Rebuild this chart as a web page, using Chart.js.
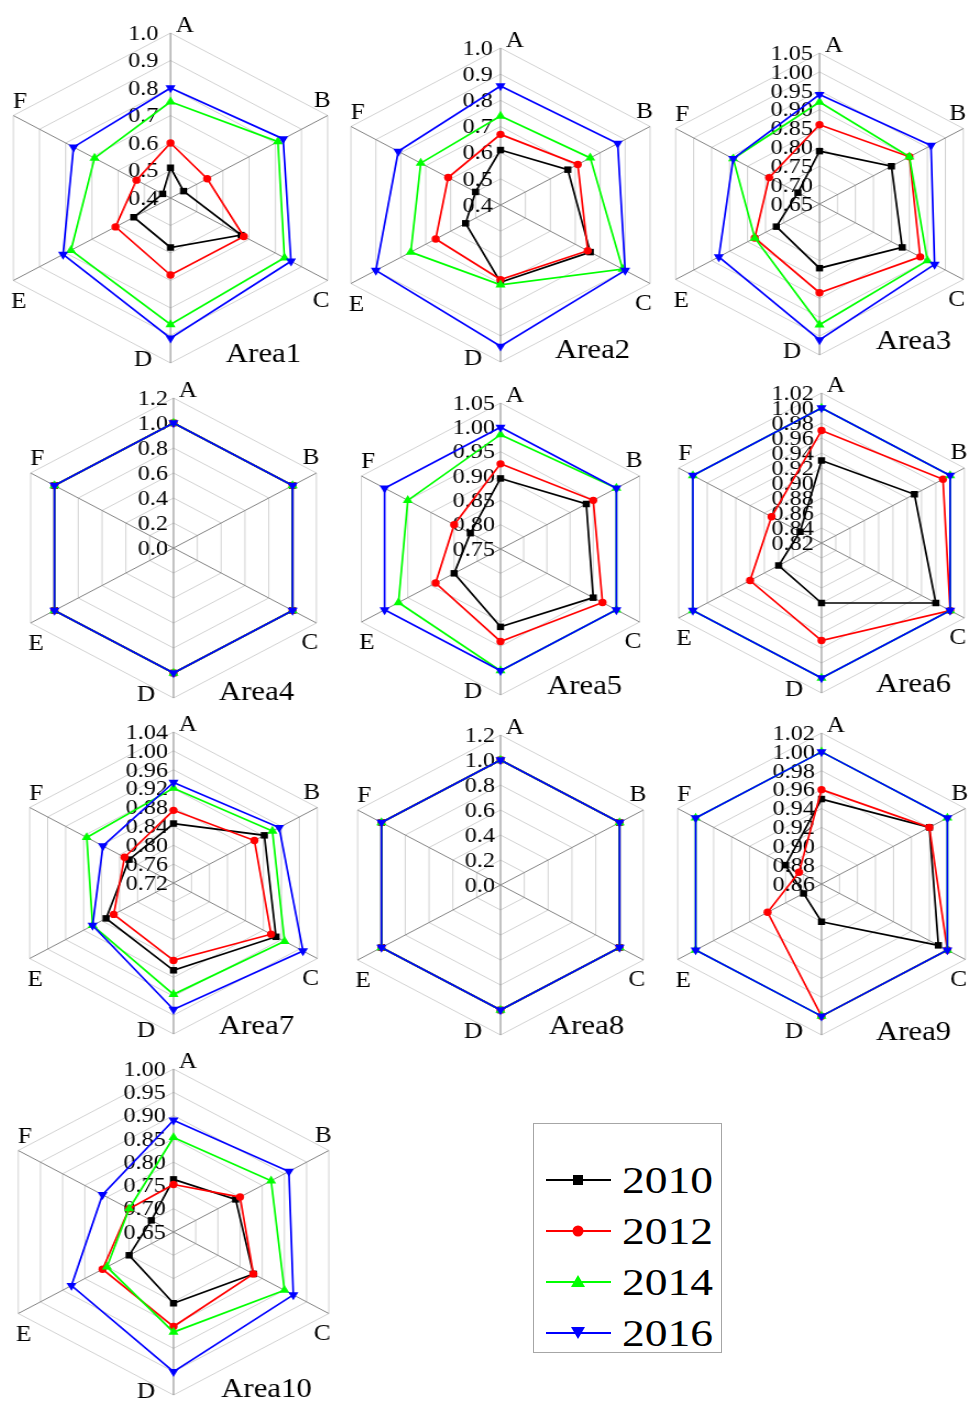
<!DOCTYPE html>
<html>
<head>
<meta charset="utf-8">
<title>Area radar charts 2010-2016</title>
<script src="https://cdn.jsdelivr.net/npm/chart.js@4.4.1/dist/chart.umd.min.js"></script>
<style>
  html, body { margin: 0; padding: 0; background: #ffffff; }
  body { position: relative; width: 968px; height: 1406px; overflow: hidden; }
  canvas { position: absolute; }
  #legend { position: absolute; left: 533px; top: 1123px; }
</style>
</head>
<body>
<svg id="legend" width="189" height="230" xmlns="http://www.w3.org/2000/svg">
  <rect x="0.5" y="0.5" width="188" height="229" fill="#ffffff" stroke="#a6a6a6" stroke-width="1"/>
  <g font-family="'Liberation Serif', 'Times New Roman', serif" font-size="38" fill="#000000">
    <line x1="13" y1="57" x2="78" y2="57" stroke="#000000" stroke-width="2"/>
    <rect x="40" y="52" width="10" height="10" fill="#000000"/>
    <text x="89" y="70" textLength="91" lengthAdjust="spacingAndGlyphs">2010</text>

    <line x1="13" y1="108" x2="78" y2="108" stroke="#ff0000" stroke-width="2"/>
    <circle cx="45" cy="108" r="5.5" fill="#ff0000"/>
    <text x="89" y="121" textLength="91" lengthAdjust="spacingAndGlyphs">2012</text>

    <line x1="13" y1="159" x2="78" y2="159" stroke="#00ff00" stroke-width="2"/>
    <polygon points="45,152 52,164 38,164" fill="#00ff00"/>
    <text x="89" y="172" textLength="91" lengthAdjust="spacingAndGlyphs">2014</text>

    <line x1="13" y1="210" x2="78" y2="210" stroke="#0000ff" stroke-width="2"/>
    <polygon points="38,204 52,204 45,216" fill="#0000ff"/>
    <text x="89" y="223" textLength="91" lengthAdjust="spacingAndGlyphs">2016</text>
  </g>
</svg>
<script>
// ---- data ----
const categories = ['A', 'B', 'C', 'D', 'E', 'F'];
const years = ['2010', '2012', '2014', '2016'];
const areaNames = ['Area1', 'Area2', 'Area3', 'Area4', 'Area5', 'Area6', 'Area7', 'Area8', 'Area9', 'Area10'];

// radial axis range of each area
const scaleMin  = [0.40, 0.40, 0.65, 0.0, 0.75, 0.82, 0.72, 0.0, 0.86, 0.65];
const scaleMax  = [1.00, 1.00, 1.05, 1.2, 1.05, 1.02, 1.04, 1.2, 1.02, 1.00];
const scaleStep = [0.10, 0.10, 0.05, 0.2, 0.05, 0.02, 0.04, 0.2, 0.02, 0.05];
const tickDecimals = [1, 1, 2, 1, 2, 2, 2, 1, 2, 2];

// values per year (rows: 2010, 2012, 2014, 2016; columns: A..F)
const area1 = [
  [0.51, 0.45, 0.67, 0.58, 0.54, 0.43],
  [0.60, 0.54, 0.68, 0.68, 0.61, 0.53],
  [0.75, 0.81, 0.835, 0.86, 0.78, 0.69],
  [0.80, 0.83, 0.86, 0.91, 0.81, 0.77]
];
const area2 = [
  [0.61, 0.67, 0.76, 0.695, 0.54, 0.50],
  [0.67, 0.71, 0.75, 0.685, 0.66, 0.61],
  [0.74, 0.76, 0.89, 0.705, 0.76, 0.72],
  [0.855, 0.87, 0.90, 0.94, 0.90, 0.81]
];
const area3 = [
  [0.79, 0.85, 0.88, 0.82, 0.77, 0.71],
  [0.86, 0.90, 0.93, 0.885, 0.83, 0.79],
  [0.92, 0.90, 0.95, 0.97, 0.83, 0.89],
  [0.94, 0.96, 0.97, 1.01, 0.93, 0.89]
];
const area4 = [
  [1.0, 1.0, 1.0, 1.0, 1.0, 1.0],
  [1.0, 1.0, 1.0, 1.0, 1.0, 1.0],
  [1.0, 1.0, 1.0, 1.0, 1.0, 1.0],
  [1.0, 1.0, 1.0, 1.0, 1.0, 1.0]
];
const area5 = [
  [0.895, 0.935, 0.95, 0.91, 0.85, 0.815],
  [0.925, 0.95, 0.97, 0.94, 0.89, 0.85],
  [0.985, 1.00, 1.00, 1.00, 0.97, 0.95],
  [1.00, 1.00, 1.00, 1.00, 1.00, 1.00]
];
const area6 = [
  [0.93, 0.95, 0.98, 0.90, 0.88, 0.85],
  [0.97, 0.99, 1.00, 0.95, 0.92, 0.89],
  [1.00, 1.00, 1.00, 1.00, 1.00, 1.00],
  [1.00, 1.00, 1.00, 1.00, 1.00, 1.00]
];
const area7 = [
  [0.846, 0.922, 0.948, 0.905, 0.87, 0.819],
  [0.874, 0.90, 0.937, 0.884, 0.853, 0.829],
  [0.921, 0.94, 0.967, 0.956, 0.90, 0.913],
  [0.933, 0.955, 1.008, 0.988, 0.90, 0.877]
];
const area8 = [
  [1.0, 1.0, 1.0, 1.0, 1.0, 1.0],
  [1.0, 1.0, 1.0, 1.0, 1.0, 1.0],
  [1.0, 1.0, 1.0, 1.0, 1.0, 1.0],
  [1.0, 1.0, 1.0, 1.0, 1.0, 1.0]
];
const area9 = [
  [0.95, 0.98, 0.99, 0.90, 0.88, 0.90],
  [0.96, 0.98, 1.00, 1.00, 0.92, 0.885],
  [1.00, 1.00, 1.00, 1.00, 1.00, 1.00],
  [1.00, 1.00, 1.00, 1.00, 1.00, 1.00]
];
const area10 = [
  [0.763, 0.79, 0.83, 0.803, 0.75, 0.70],
  [0.752, 0.80, 0.83, 0.853, 0.81, 0.75],
  [0.853, 0.87, 0.90, 0.865, 0.80, 0.75],
  [0.89, 0.91, 0.92, 0.95, 0.88, 0.81]
];
const areaValues = [area1, area2, area3, area4, area5, area6, area7, area8, area9, area10];

// ---- layout & style ----
const STRETCH = 1.1;          // panels are drawn slightly wider than tall
const CW = 370, CH = 400;     // canvas size in drawing units
const panels = [
  { cx: 170.7, cy: 198, r: 165, tdx: 93, tdy: 157, tickGap: 11 },
  { cx: 500.0, cy: 205, r: 157, tdx: 92, tdy: 146, tickGap: 7 },
  { cx: 819.3, cy: 204, r: 151, tdx: 94, tdy: 138, tickGap: 6 },
  { cx: 173.3, cy: 548, r: 150, tdx: 83, tdy: 145, tickGap: 5 },
  { cx: 500.7, cy: 549, r: 146, tdx: 84, tdy: 138, tickGap: 5 },
  { cx: 821.7, cy: 543, r: 150, tdx: 92, tdy: 142, tickGap: 7 },
  { cx: 173.3, cy: 883, r: 151, tdx: 83, tdy: 144, tickGap: 5 },
  { cx: 500.0, cy: 885, r: 150, tdx: 86, tdy: 142, tickGap: 5 },
  { cx: 821.0, cy: 884, r: 151, tdx: 92, tdy: 149, tickGap: 6 },
  { cx: 173.3, cy: 1232, r: 163, tdx: 93, tdy: 158, tickGap: 7 }
];
const yearStyles = [
  { color: '#000000', pointStyle: 'rect',     radius: 4.6, rotation: 0 },
  { color: '#ff0000', pointStyle: 'circle',   radius: 3.7, rotation: 0 },
  { color: '#00ff00', pointStyle: 'triangle', radius: 5.3, rotation: 0 },
  { color: '#0000ff', pointStyle: 'triangle', radius: 5.3, rotation: 180 }
];
// offsets of the axis letters from the end of each spoke (drawing units)
const letterOffsets = [[13, -7], [-5, -15], [-6, 20], [-25, -3], [5, 21], [6, -14]];
const SERIF = '"Liberation Serif", "Times New Roman", serif';

// tick numbers, axis letters and the area name
const radarText = {
  id: 'radarText',
  beforeDatasetsDraw(chart, args, opts) {
    const s = chart.scales.r;
    const ctx = chart.ctx;
    ctx.save();
    ctx.font = '22px ' + SERIF;
    ctx.fillStyle = '#000000';
    ctx.textAlign = 'right';
    ctx.textBaseline = 'middle';
    s.ticks.forEach(t => {
      const d = s.getDistanceFromCenterForValue(t.value);
      ctx.fillText(t.value.toFixed(opts.decimals), s.xCenter - opts.tickGap, s.yCenter - d + 1);
    });
    ctx.restore();
  },
  afterDraw(chart, args, opts) {
    const s = chart.scales.r;
    const ctx = chart.ctx;
    ctx.save();
    ctx.fillStyle = '#000000';
    ctx.textAlign = 'center';
    ctx.textBaseline = 'middle';
    ctx.font = '23px ' + SERIF;
    chart.data.labels.forEach((lab, i) => {
      const p = s.getPointPosition(i, s.drawingArea);
      ctx.fillText(lab, p.x + letterOffsets[i][0], p.y + letterOffsets[i][1]);
    });
    ctx.font = '28px ' + SERIF;
    ctx.fillText(opts.title, s.xCenter + opts.titleDx, s.yCenter + opts.titleDy);
    ctx.restore();
  }
};

areaNames.forEach((name, k) => {
  const p = panels[k];
  const canvas = document.createElement('canvas');
  canvas.width = CW;
  canvas.height = CH;
  canvas.style.width = (CW * STRETCH) + 'px';
  canvas.style.height = CH + 'px';
  canvas.style.left = (p.cx - (CW / 2) * STRETCH) + 'px';
  canvas.style.top = (p.cy - CH / 2) + 'px';
  document.body.appendChild(canvas);

  const padX = CW / 2 - p.r, padY = CH / 2 - p.r;
  new Chart(canvas, {
    type: 'radar',
    data: {
      labels: categories,
      datasets: years.map((y, i) => ({
        label: y,
        data: areaValues[k][i],
        order: 3 - i,
        borderColor: yearStyles[i].color,
        backgroundColor: yearStyles[i].color,
        borderWidth: 1.7,
        fill: false,
        tension: 0,
        clip: false,
        pointStyle: yearStyles[i].pointStyle,
        pointRadius: yearStyles[i].radius,
        pointRotation: yearStyles[i].rotation,
        pointBorderWidth: 0,
        pointBackgroundColor: yearStyles[i].color,
        pointBorderColor: yearStyles[i].color
      }))
    },
    options: {
      responsive: false,
      animation: false,
      devicePixelRatio: 1,
      locale: 'en-US',
      layout: { padding: { left: padX, right: padX, top: padY, bottom: padY } },
      events: [],
      plugins: {
        legend: { display: false },
        tooltip: { enabled: false },
        radarText: {
          decimals: tickDecimals[k],
          tickGap: p.tickGap,
          title: name,
          titleDx: p.tdx / STRETCH,
          titleDy: p.tdy
        }
      },
      scales: {
        r: {
          min: scaleMin[k],
          max: scaleMax[k],
          startAngle: 0,
          ticks: { display: false, stepSize: scaleStep[k] },
          pointLabels: { display: false },
          grid: { circular: false, color: '#d2d2d2', lineWidth: 1 },
          angleLines: { display: true, color: '#858585', lineWidth: 1 }
        }
      }
    },
    plugins: [radarText]
  });
});
</script>
</body>
</html>
